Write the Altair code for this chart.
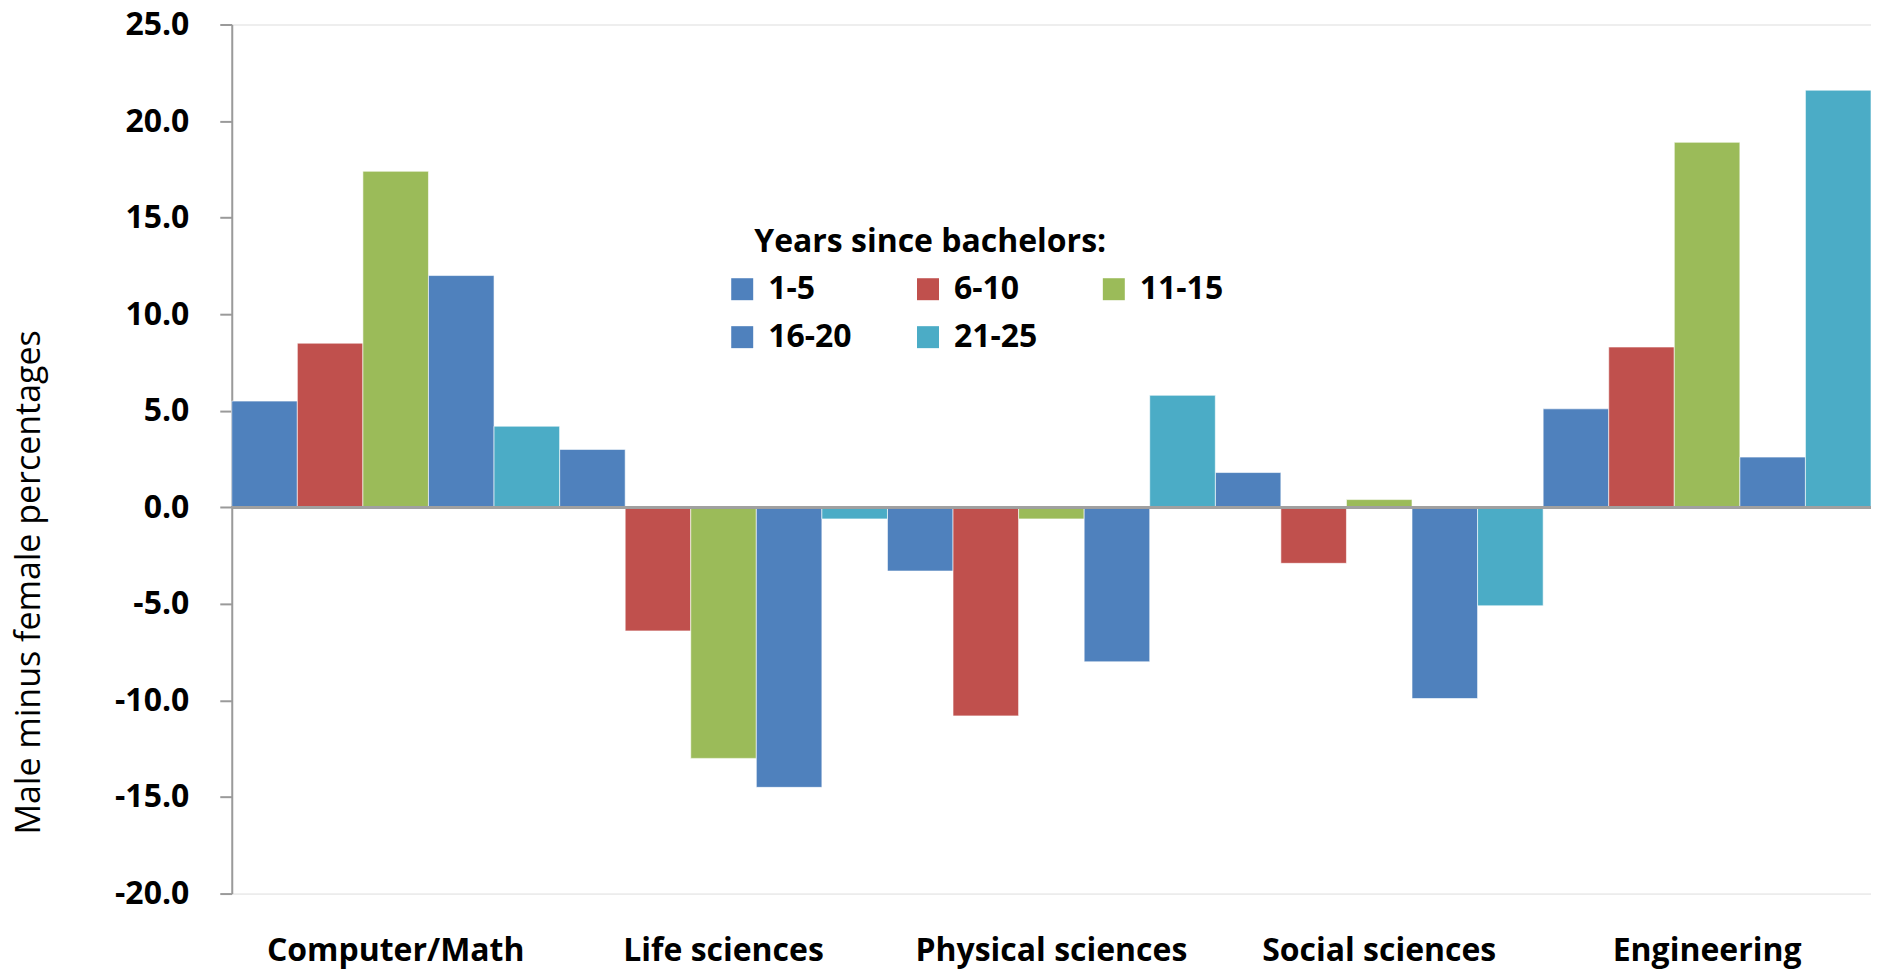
import altair as alt
import pandas as pd

categories = ["Computer/Math", "Life sciences", "Physical sciences", "Social sciences", "Engineering"]
series = ["1-5", "6-10", "11-15", "16-20", "21-25"]
colors = ["#4F81BD", "#C0504D", "#9BBB59", "#4F81BD", "#4BACC6"]
legend_title = "Years since bachelors:"

values_1_5 = [5.5, 3.0, -3.3, 1.8, 5.1]
values_6_10 = [8.5, -6.4, -10.8, -2.9, 8.3]
values_11_15 = [17.4, -13.0, -0.6, 0.4, 18.9]
values_16_20 = [12.0, -14.5, -8.0, -9.9, 2.6]
values_21_25 = [4.2, -0.6, 5.8, -5.1, 21.6]

y_ticks = [-20, -15, -10, -5, 0, 5, 10, 15, 20, 25]

rows = []
for s, vals in zip(series, [values_1_5, values_6_10, values_11_15, values_16_20, values_21_25]):
    for c, v in zip(categories, vals):
        rows.append({"category": c, "series": s, "value": v})
df = pd.DataFrame(rows)

FONT = "Open Sans"

bars = alt.Chart(df).mark_bar(stroke="white", strokeWidth=0.6).encode(
    x=alt.X(
        "category:N",
        sort=categories,
        scale=alt.Scale(paddingInner=0, paddingOuter=0),
        axis=alt.Axis(
            title=None, domain=False, ticks=False, tickSize=0, labelAngle=0, labelLimit=600,
            labelFont=FONT, labelFontSize=32, labelFontWeight="bold", labelColor="black",
            labelBaseline="alphabetic", labelPadding=67,
        ),
    ),
    xOffset=alt.XOffset("series:N", sort=series, scale=alt.Scale(domain=series, paddingInner=0, paddingOuter=0)),
    y=alt.Y(
        "value:Q",
        scale=alt.Scale(domain=[-20, 25], nice=False, zero=False),
        axis=alt.Axis(
            title="Male minus female percentages",
            values=y_ticks, grid=False,
            labelExpr="datum.value < 0 ? '-' + format(-datum.value, '.1f') : format(datum.value, '.1f')",
            domainColor="#9A9A9A", domainWidth=2, tickColor="#9A9A9A", tickWidth=2, tickSize=12,
            labelFont=FONT, labelFontSize=32, labelFontWeight="bold", labelColor="black", labelPadding=31,
            titleFont=FONT, titleFontSize=34, titleFontWeight="normal", titleColor="black",
            titleX=-202, titleY=558, titleAlign="center", titleBaseline="middle", titleAngle=-90,
            titleLimit=800,
        ),
    ),
    color=alt.Color(
        "series:N",
        scale=alt.Scale(domain=series, range=colors),
        legend=alt.Legend(
            title=None,
            orient="none", legendX=495, legendY=249, columns=3, direction="horizontal",
            labelLimit=300,
            labelFont=FONT, labelFontSize=32, labelFontWeight="bold", labelColor="black", labelOffset=10,
            symbolType="square", symbolSize=484, symbolStrokeWidth=0, symbolOpacity=1,
            columnPadding=60, rowPadding=16,
        ),
    ),
)

zero_rule = alt.Chart(df).mark_rule(color="#A0A0A0", strokeWidth=2).encode(y=alt.datum(0))

title_text = alt.Chart(pd.DataFrame({"t": [legend_title]})).mark_text(
    font=FONT, fontSize=32, fontWeight="bold", color="black", align="left", baseline="alphabetic"
).encode(x=alt.value(523), y=alt.value(228), text="t:N")

chart = alt.layer(bars, zero_rule, title_text).properties(
    width=1641,
    height=870,
    padding={"left": 224, "top": 16, "right": 0, "bottom": 76},
    autosize=alt.AutoSizeParams(type="none"),
).configure_view(stroke=None).configure(background="white")

chart.save("out.html", embed_options={"renderer": "svg", "actions": False})
